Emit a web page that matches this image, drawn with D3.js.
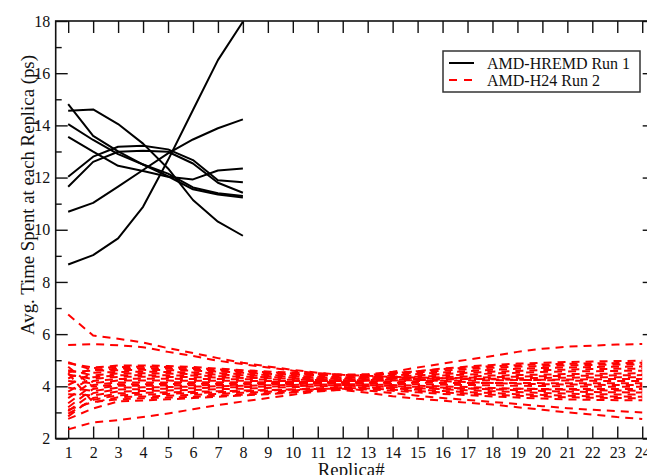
<!DOCTYPE html>
<html>
<head>
<meta charset="utf-8">
<script src="https://cdn.jsdelivr.net/npm/d3@7"></script>
<style>
  html, body { margin: 0; padding: 0; background: #fff; overflow: hidden; }
  text { font-family: "Liberation Serif", "DejaVu Serif", serif; fill: #111; }
</style>
</head>
<body>
<svg id="chart" width="647" height="475"></svg>
<script>
// Replica indices for each run
const replicasRun1 = [1, 2, 3, 4, 5, 6, 7, 8];
const replicasRun2 = [1, 2, 3, 4, 5, 6, 7, 8, 9, 10, 11, 12, 13, 14, 15, 16, 17, 18, 19, 20, 21, 22, 23, 24];

// AMD-HREMD Run 1: average time (ps) each walker spends at replicas 1-8
const hremdRun1 = [
  [8.67, 9.03, 9.67, 10.88, 12.67, 14.59, 16.50, 17.97],
  [14.56, 14.61, 14.05, 13.30, 12.35, 11.14, 10.31, 9.77],
  [13.56, 12.99, 12.45, 12.25, 12.03, 11.93, 12.27, 12.35],
  [10.69, 11.03, 11.65, 12.29, 12.93, 13.46, 13.89, 14.23],
  [12.03, 12.80, 13.18, 13.22, 13.08, 12.67, 11.90, 11.82],
  [11.65, 12.60, 12.99, 13.03, 12.99, 12.54, 11.80, 11.42],
  [14.81, 13.60, 13.00, 12.50, 12.15, 11.62, 11.40, 11.29],
  [14.05, 13.44, 12.90, 12.50, 12.05, 11.55, 11.35, 11.24]
];

// AMD-H24 Run 2: average time (ps) each walker spends at replicas 1-24
const h24Run2 = [
  [6.75, 5.95, 5.82, 5.68, 5.46, 5.28, 5.08, 4.90, 4.76, 4.63, 4.52, 4.44, 4.40, 4.36, 4.34, 4.31, 4.29, 4.27, 4.25, 4.24, 4.22, 4.21, 4.20, 4.20],
  [5.58, 5.62, 5.57, 5.50, 5.32, 5.16, 4.98, 4.85, 4.72, 4.60, 4.50, 4.43, 4.38, 4.30, 4.25, 4.20, 4.16, 4.13, 4.10, 4.08, 4.07, 4.06, 4.05, 4.05],
  [4.88, 4.72, 4.80, 4.80, 4.78, 4.74, 4.68, 4.62, 4.57, 4.52, 4.48, 4.45, 4.46, 4.56, 4.72, 4.87, 5.02, 5.16, 5.32, 5.44, 5.52, 5.56, 5.60, 5.62],
  [4.55, 4.60, 4.62, 4.63, 4.62, 4.60, 4.57, 4.52, 4.48, 4.45, 4.43, 4.41, 4.42, 4.50, 4.58, 4.68, 4.76, 4.82, 4.87, 4.90, 4.93, 4.95, 4.97, 4.98],
  [4.30, 4.70, 4.74, 4.75, 4.74, 4.70, 4.65, 4.59, 4.54, 4.50, 4.46, 4.43, 4.44, 4.50, 4.58, 4.66, 4.72, 4.77, 4.81, 4.84, 4.86, 4.88, 4.89, 4.90],
  [4.92, 4.62, 4.68, 4.69, 4.68, 4.65, 4.60, 4.55, 4.50, 4.47, 4.43, 4.40, 4.41, 4.46, 4.53, 4.60, 4.66, 4.71, 4.75, 4.78, 4.80, 4.82, 4.83, 4.84],
  [4.05, 4.52, 4.55, 4.56, 4.55, 4.53, 4.50, 4.47, 4.43, 4.40, 4.37, 4.35, 4.36, 4.41, 4.47, 4.53, 4.58, 4.63, 4.67, 4.70, 4.72, 4.74, 4.75, 4.76],
  [4.62, 4.42, 4.49, 4.50, 4.49, 4.47, 4.45, 4.42, 4.39, 4.37, 4.34, 4.32, 4.33, 4.37, 4.42, 4.47, 4.52, 4.56, 4.59, 4.62, 4.64, 4.66, 4.67, 4.68],
  [3.80, 4.35, 4.42, 4.43, 4.42, 4.41, 4.39, 4.37, 4.35, 4.33, 4.31, 4.29, 4.30, 4.33, 4.37, 4.41, 4.45, 4.49, 4.52, 4.55, 4.57, 4.58, 4.59, 4.60],
  [4.45, 4.28, 4.36, 4.37, 4.36, 4.35, 4.34, 4.32, 4.31, 4.29, 4.27, 4.26, 4.27, 4.29, 4.32, 4.35, 4.38, 4.41, 4.43, 4.45, 4.47, 4.48, 4.49, 4.50],
  [3.55, 4.20, 4.28, 4.29, 4.29, 4.28, 4.28, 4.27, 4.26, 4.25, 4.24, 4.23, 4.24, 4.26, 4.28, 4.31, 4.33, 4.35, 4.37, 4.39, 4.40, 4.41, 4.42, 4.43],
  [4.20, 4.12, 4.22, 4.22, 4.22, 4.21, 4.21, 4.21, 4.20, 4.20, 4.20, 4.20, 4.21, 4.22, 4.24, 4.26, 4.28, 4.29, 4.31, 4.32, 4.33, 4.34, 4.35, 4.35],
  [3.35, 4.05, 4.15, 4.15, 4.15, 4.16, 4.16, 4.16, 4.16, 4.17, 4.17, 4.17, 4.18, 4.19, 4.20, 4.21, 4.22, 4.23, 4.24, 4.25, 4.26, 4.27, 4.28, 4.28],
  [4.75, 3.98, 4.08, 4.08, 4.09, 4.10, 4.10, 4.11, 4.12, 4.13, 4.13, 4.14, 4.14, 4.14, 4.14, 4.13, 4.13, 4.13, 4.13, 4.12, 4.12, 4.12, 4.12, 4.12],
  [3.20, 3.90, 4.02, 4.02, 4.03, 4.04, 4.05, 4.06, 4.08, 4.09, 4.10, 4.11, 4.10, 4.09, 4.08, 4.06, 4.05, 4.04, 4.02, 4.01, 4.00, 3.99, 3.98, 3.98],
  [3.95, 3.82, 3.95, 3.96, 3.97, 3.99, 4.00, 4.02, 4.04, 4.05, 4.07, 4.08, 4.07, 4.05, 4.02, 4.00, 3.97, 3.94, 3.91, 3.89, 3.87, 3.85, 3.84, 3.83],
  [3.05, 3.74, 3.88, 3.89, 3.91, 3.93, 3.95, 3.97, 3.99, 4.01, 4.03, 4.05, 4.04, 4.01, 3.98, 3.95, 3.92, 3.88, 3.85, 3.82, 3.80, 3.78, 3.77, 3.76],
  [3.70, 3.65, 3.80, 3.82, 3.84, 3.86, 3.89, 3.91, 3.94, 3.97, 4.00, 4.02, 4.01, 3.97, 3.93, 3.89, 3.85, 3.81, 3.78, 3.75, 3.72, 3.70, 3.69, 3.68],
  [2.95, 3.48, 3.66, 3.68, 3.71, 3.74, 3.77, 3.81, 3.84, 3.88, 3.93, 3.97, 3.96, 3.92, 3.87, 3.82, 3.78, 3.74, 3.70, 3.67, 3.64, 3.62, 3.61, 3.60],
  [4.50, 3.38, 3.58, 3.61, 3.64, 3.67, 3.71, 3.75, 3.79, 3.84, 3.89, 3.94, 3.92, 3.87, 3.82, 3.77, 3.72, 3.68, 3.64, 3.61, 3.58, 3.56, 3.55, 3.54],
  [2.75, 3.15, 3.42, 3.46, 3.50, 3.55, 3.60, 3.65, 3.70, 3.76, 3.83, 3.90, 3.88, 3.83, 3.77, 3.71, 3.66, 3.61, 3.57, 3.53, 3.50, 3.48, 3.47, 3.47],
  [3.10, 3.40, 3.50, 3.54, 3.57, 3.60, 3.64, 3.68, 3.73, 3.78, 3.83, 3.86, 3.75, 3.62, 3.52, 3.45, 3.37, 3.30, 3.20, 3.10, 3.00, 2.92, 2.82, 2.75],
  [2.85, 3.55, 3.73, 3.75, 3.77, 3.79, 3.81, 3.84, 3.86, 3.88, 3.90, 3.91, 3.84, 3.74, 3.64, 3.55, 3.48, 3.40, 3.32, 3.24, 3.16, 3.10, 3.05, 3.00],
  [2.35, 2.62, 2.70, 2.82, 2.96, 3.12, 3.28, 3.42, 3.55, 3.68, 3.80, 3.88, 3.92, 3.93, 3.93, 3.92, 3.92, 3.91, 3.91, 3.90, 3.90, 3.90, 3.90, 3.90]
];

// Axis ticks and labels
const xTicks = [1, 2, 3, 4, 5, 6, 7, 8, 9, 10, 11, 12, 13, 14, 15, 16, 17, 18, 19, 20, 21, 22, 23, 24];
const yTicks = [2, 4, 6, 8, 10, 12, 14, 16, 18];
const yMinorTicks = [3, 5, 7, 9, 11, 13, 15, 17];
const legendLabels = ["AMD-HREMD Run 1", "AMD-H24 Run 2"];
const xTitle = "Replica#";
const yTitle = "Avg. Time Spent at each Replica (ps)";

const svg = d3.select("#chart");
const plot = { left: 55.7, right: 654.7, top: 21, bottom: 438.5 };

const x = d3.scaleLinear().domain([0.5, 24.5]).range([plot.left, plot.right]);
const y = d3.scaleLinear().domain([2, 18]).range([plot.bottom, plot.top]);

const FONT = 16;
const TITLE_FONT = 18.8;
const AXIS_COLOR = "#111";

function styleAxis(g) {
  g.select(".domain").remove();
  g.selectAll(".tick line").attr("stroke", AXIS_COLOR).attr("stroke-width", 1.4);
  g.selectAll(".tick text").attr("font-size", FONT).attr("fill", "#111")
    .attr("font-family", '"Liberation Serif", serif');
}

// Bottom axis with labels
svg.append("g")
  .attr("transform", `translate(0,${plot.bottom})`)
  .call(d3.axisBottom(x).tickValues(xTicks).tickSizeInner(-12).tickSizeOuter(0).tickPadding(8.5).tickFormat(d3.format("d")))
  .call(styleAxis);

// Top axis, ticks only
svg.append("g")
  .attr("transform", `translate(0,${plot.top})`)
  .call(d3.axisTop(x).tickValues(xTicks).tickSizeInner(-12).tickSizeOuter(0).tickFormat(""))
  .call(styleAxis);

// Left axis, major and minor
svg.append("g")
  .attr("transform", `translate(${plot.left},0)`)
  .call(d3.axisLeft(y).tickValues(yTicks).tickSizeInner(-12).tickSizeOuter(0).tickPadding(5.5).tickFormat(d3.format("d")))
  .call(styleAxis);
svg.append("g")
  .attr("transform", `translate(${plot.left},0)`)
  .call(d3.axisLeft(y).tickValues(yMinorTicks).tickSizeInner(-6).tickSizeOuter(0).tickFormat(""))
  .call(styleAxis);

// Right axis, ticks only
svg.append("g")
  .attr("transform", `translate(${plot.right},0)`)
  .call(d3.axisRight(y).tickValues(yTicks).tickSizeInner(-12).tickSizeOuter(0).tickFormat(""))
  .call(styleAxis);
svg.append("g")
  .attr("transform", `translate(${plot.right},0)`)
  .call(d3.axisRight(y).tickValues(yMinorTicks).tickSizeInner(-6).tickSizeOuter(0).tickFormat(""))
  .call(styleAxis);

// Frame
svg.append("rect")
  .attr("x", plot.left).attr("y", plot.top)
  .attr("width", plot.right - plot.left).attr("height", plot.bottom - plot.top)
  .attr("fill", "none").attr("stroke", AXIS_COLOR).attr("stroke-width", 1.6);

// Series
const lineRun1 = d3.line().x((d, i) => x(replicasRun1[i])).y(d => y(d));
const lineRun2 = d3.line().x((d, i) => x(replicasRun2[i])).y(d => y(d));

svg.append("g").selectAll("path").data(hremdRun1).join("path")
  .attr("d", lineRun1)
  .attr("fill", "none").attr("stroke", "#000").attr("stroke-width", 2)
  .attr("stroke-linejoin", "round");

svg.append("g").selectAll("path").data(h24Run2).join("path")
  .attr("d", lineRun2)
  .attr("fill", "none").attr("stroke", "#ff0000").attr("stroke-width", 2)
  .attr("stroke-dasharray", "8,6");

// Axis titles
svg.append("text")
  .attr("x", (plot.left + plot.right) / 2 - 4).attr("y", 475.5)
  .attr("text-anchor", "middle").attr("font-size", TITLE_FONT)
  .text(xTitle);

svg.append("text")
  .attr("transform", `translate(27,195) rotate(-90)`)
  .attr("text-anchor", "middle").attr("dominant-baseline", "central")
  .attr("font-size", TITLE_FONT)
  .text(yTitle);

// Legend
const legend = svg.append("g");
legend.append("rect")
  .attr("x", 443).attr("y", 51).attr("width", 197).attr("height", 41)
  .attr("fill", "#fff").attr("stroke", "#333").attr("stroke-width", 1.5);
const legendStyles = [
  { stroke: "#000", dash: null },
  { stroke: "#ff0000", dash: "8,7" }
];
legendLabels.forEach((label, i) => {
  const cy = 63 + i * 17;
  legend.append("line")
    .attr("x1", 449).attr("x2", 474).attr("y1", cy).attr("y2", cy)
    .attr("stroke", legendStyles[i].stroke).attr("stroke-width", 2)
    .attr("stroke-dasharray", legendStyles[i].dash);
  legend.append("text")
    .attr("x", 487).attr("y", cy + 5.5)
    .attr("font-size", FONT)
    .text(label);
});
</script>
</body>
</html>
